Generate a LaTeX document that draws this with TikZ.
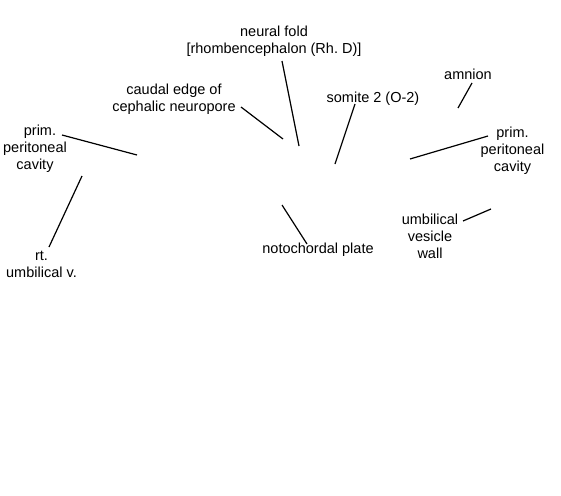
\documentclass[tikz,border=0pt]{standalone}
\usepackage{fontspec}
\setmainfont{Liberation Sans}
\frenchspacing
\begin{document}
\begin{tikzpicture}[x=1pt,y=-1pt,
  lbl/.style={align=center,inner sep=0pt,font=\fontsize{14.5}{17}\selectfont},
  lead/.style={draw=black,line width=1.2pt}]
\useasboundingbox (0,0) rectangle (561,495);
\node[lbl] (neural) at (274,41.5) {neural fold\\{}[rhombencephalon (Rh.\ D)]};
\node[lbl] (caudal) at (174,99) {caudal edge of\\cephalic neuropore};
\node[lbl] (lprim) at (35,149) {\hspace*{10pt}prim.\\peritoneal\\cavity};
\node[lbl] (rtumb) at (41.5,264) {rt.\\umbilical v.};
\node[lbl] (noto) at (318,250) {notochordal plate};
\node[lbl] (somite) at (373,99) {somite 2 (O-2)};
\node[lbl] (amnion) at (468,74) {amnion};
\node[lbl] (rprim) at (512.5,150.5) {prim.\\peritoneal\\cavity};
\node[lbl] (uvw) at (430,236) {umbilical\\vesicle\\wall};
% leader end points
\coordinate (lprimA) at (62,135);   \coordinate (lprimB) at (137,155);
\coordinate (rtumbA) at (49,247);   \coordinate (rtumbB) at (82,176);
\coordinate (caudalA) at (241,107); \coordinate (caudalB) at (283,139);
\coordinate (neuralA) at (282,61);  \coordinate (neuralB) at (299,146);
\coordinate (somiteA) at (355,104); \coordinate (somiteB) at (335,164);
\coordinate (amnionA) at (472,83);  \coordinate (amnionB) at (458,108);
\coordinate (rprimA) at (488,136);  \coordinate (rprimB) at (410,159);
\coordinate (uvwA) at (463,221);    \coordinate (uvwB) at (491,209);
\coordinate (notoA) at (307,244);   \coordinate (notoB) at (282,205);
\draw[lead] (lprimA) -- (lprimB);
\draw[lead] (rtumbA) -- (rtumbB);
\draw[lead] (caudalA) -- (caudalB);
\draw[lead] (neuralA) -- (neuralB);
\draw[lead] (somiteA) -- (somiteB);
\draw[lead] (amnionA) -- (amnionB);
\draw[lead] (rprimA) -- (rprimB);
\draw[lead] (uvwA) -- (uvwB);
\draw[lead] (notoA) -- (notoB);
\end{tikzpicture}
\end{document}
